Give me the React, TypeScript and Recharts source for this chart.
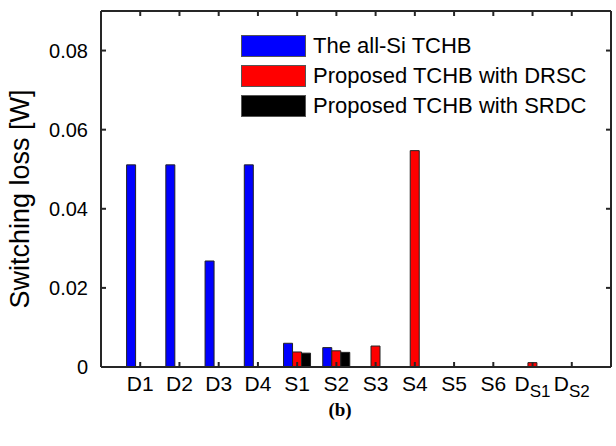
import { Bar, BarChart, Legend, XAxis, YAxis, Label, ReferenceLine } from "recharts";

// switching loss per device, [W]
const devices = ["D1", "D2", "D3", "D4", "S1", "S2", "S3", "S4", "S5", "S6", "D_S1", "D_S2"];
const allSi = [0.0511, 0.0511, 0.0268, 0.0511, 0.006, 0.0049, 0, 0, 0, 0, 0, 0];
const drsc = [0, 0, 0, 0, 0.0038, 0.0041, 0.0053, 0.0547, 0, 0, 0.0011, 0];
const srdc = [0, 0, 0, 0, 0.0035, 0.0037, 0, 0, 0, 0, 0, 0];
const yTicks = [0, 0.02, 0.04, 0.06, 0.08];
const yMax = 0.09;

const seriesNames = ["The all-Si TCHB", "Proposed TCHB with DRSC", "Proposed TCHB with SRDC"];
const seriesColors = ["#0000FF", "#FF0000", "#000000"];

const data = devices.map((name, i) => ({
  name,
  allSi: allSi[i],
  drsc: drsc[i],
  srdc: srdc[i],
}));

const font = "'Liberation Sans', Arial, sans-serif";
const axisColor = "#262626";

// plot box (matlab style "box on")
const W = 616;
const H = 446;
const box = { left: 101, top: 11, right: 611, bottom: 367 };

function DeviceTick({ x, y, payload }: any) {
  const [main, sub] = String(payload.value).split("_");
  return (
    <text x={x} y={y} dy="0.71em" textAnchor="middle" fontFamily={font} fontSize={21} fill="#000">
      <tspan>{main}</tspan>
      {sub && (
        <tspan fontSize={17} dy={6}>
          {sub}
        </tspan>
      )}
    </text>
  );
}

function LegendBox() {
  return (
    <div style={{ fontFamily: font, fontSize: 22, color: "#000" }}>
      {seriesNames.map((n, i) => (
        <div key={n} style={{ display: "flex", alignItems: "center", height: 30 }}>
          <div
            style={{
              width: 63,
              height: 20,
              background: seriesColors[i],
              border: "1px solid #555",
              marginRight: 7,
            }}
          />
          <span style={{ whiteSpace: "nowrap" }}>{n}</span>
        </div>
      ))}
    </div>
  );
}

// top and right edges of the box with their inward ticks
function BoxEdges() {
  const band = (box.right - box.left) / (devices.length + 1);
  const h = box.bottom - box.top;
  return (
    <svg
      width={W}
      height={H}
      viewBox={`0 0 ${W} ${H}`}
      style={{ position: "absolute", left: 0, top: 0, zIndex: 5, pointerEvents: "none" }}
    >
      <line x1={box.left} x2={box.right} y1={box.top} y2={box.top} stroke={axisColor} strokeWidth={2} />
      <line x1={box.right} x2={box.right} y1={box.top} y2={box.bottom} stroke={axisColor} strokeWidth={2} />
      {devices.map((d, i) => {
        const x = box.left + band * (i + 1);
        return <line key={d} x1={x} x2={x} y1={box.top} y2={box.top + 5} stroke={axisColor} strokeWidth={2} />;
      })}
      {yTicks.map((t) => {
        const y = box.bottom - (t / yMax) * h;
        return <line key={t} x1={box.right} x2={box.right - 5} y1={y} y2={y} stroke={axisColor} strokeWidth={2} />;
      })}
    </svg>
  );
}

export default function App() {
  const barStroke = { stroke: "#222", strokeWidth: 1 };
  const frame = { stroke: axisColor, strokeWidth: 2 };
  return (
    <div style={{ position: "absolute", left: 0, top: 0, width: W, height: H, background: "#fff" }}>
      <BarChart
        width={W}
        height={H}
        data={data}
        barGap={0}
        barSize={9}
        margin={{ top: box.top, right: W - box.right, bottom: 39, left: 0 }}
      >
        <XAxis
          dataKey="name"
          height={40}
          interval={0}
          padding={{ left: 19.6, right: 19.6 }}
          axisLine={frame}
          tickLine={frame}
          tickSize={-5}
          tickMargin={14}
          tick={<DeviceTick />}
        />
        <YAxis
          width={box.left}
          domain={[0, yMax]}
          ticks={yTicks}
          allowDataOverflow
          axisLine={frame}
          tickLine={frame}
          tickSize={-5}
          tickMargin={18}
          tick={{ fontFamily: font, fontSize: 20, fill: "#000" }}
          tickFormatter={(v: number) => (v === 0 ? "0" : v.toFixed(2))}
        >
          <Label
            value="Switching loss [W]"
            angle={-90}
            position="insideLeft"
            offset={0}
            dx={19}
            dy={10}
            style={{ fontFamily: font, fontSize: 27, fill: "#000", textAnchor: "middle" }}
          />
        </YAxis>
        <ReferenceLine y={yMax} stroke={axisColor} strokeWidth={2} ifOverflow="visible" />
        <Legend
          layout="vertical"
          align="center"
          verticalAlign="middle"
          content={<LegendBox />}
          wrapperStyle={{ position: "absolute", left: 241, top: 31, width: 370 }}
        />
        <Bar dataKey="allSi" fill={seriesColors[0]} {...barStroke} isAnimationActive={false} />
        <Bar dataKey="drsc" fill={seriesColors[1]} {...barStroke} isAnimationActive={false} />
        <Bar dataKey="srdc" fill={seriesColors[2]} {...barStroke} isAnimationActive={false} />
      </BarChart>
      <BoxEdges />
      <div
        style={{
          position: "absolute",
          left: 340,
          top: 410,
          transform: "translate(-50%, -50%)",
          fontFamily: "'Liberation Serif', 'Times New Roman', serif",
          fontWeight: "bold",
          fontSize: 19,
        }}
      >
        (b)
      </div>
    </div>
  );
}
